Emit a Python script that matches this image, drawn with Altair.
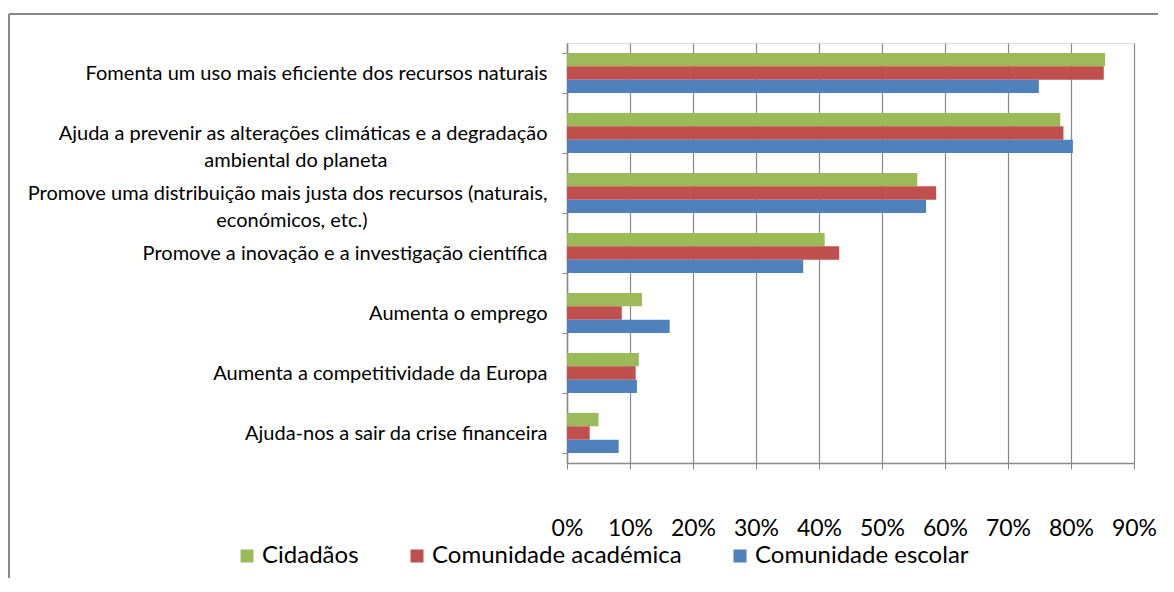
import altair as alt
import pandas as pd

EN = "\u2002"
ZW = "\u200b"
categories = [
    "Fomenta um uso mais eficiente dos recursos naturais",
    "Ajuda a prevenir as alterações climáticas e a degradação|ambiental do planeta" + EN * 16 + ZW,
    "Promove uma distribuição mais justa dos recursos (naturais,|económicos, etc.)" + EN * 18 + ZW,
    "Promove a inovação e a investigação científica",
    "Aumenta o emprego",
    "Aumenta a competitividade da Europa",
    "Ajuda-nos a sair da crise financeira",
]
series = ["Cidadãos", "Comunidade académica", "Comunidade escolar"]
colors = ["#9BBB59", "#C0504D", "#4F81BD"]
cidadaos = [0.854, 0.783, 0.556, 0.409, 0.119, 0.114, 0.050]
academica = [0.852, 0.788, 0.586, 0.432, 0.087, 0.109, 0.036]
escolar = [0.749, 0.803, 0.570, 0.375, 0.163, 0.111, 0.082]
x_ticks = [0, 0.1, 0.2, 0.3, 0.4, 0.5, 0.6, 0.7, 0.8, 0.9]

rows = []
for s, vals in zip(series, [cidadaos, academica, escolar]):
    for c, v in zip(categories, vals):
        rows.append({"categoria": c, "serie": s, "valor": v})
df = pd.DataFrame(rows)

FONT = "Lato"
GRAY = "#898989"

bars = alt.Chart(df).mark_bar().encode(
    y=alt.Y(
        "categoria:N",
        sort=categories,
        scale=alt.Scale(paddingInner=0.33, paddingOuter=0.165),
        axis=alt.Axis(
            title=None,
            labelExpr="split(datum.label, '|')",
            labelFont=FONT,
            labelFontSize=20,
            labelColor="black",
            labelLineHeight=27,
            labelLimit=700,
            labelAlign="right",
            labelPadding=15,
            tickBand="extent",
            tickSize=5,
            tickColor=GRAY,
            domainColor=GRAY,
            domainWidth=1.5,
            grid=False,
        ),
    ),
    yOffset=alt.YOffset("serie:N", sort=series, scale=alt.Scale(paddingInner=0, paddingOuter=0)),
    x=alt.X(
        "valor:Q",
        scale=alt.Scale(domain=[0, 0.9], nice=False),
        axis=alt.Axis(
            title=None,
            values=x_ticks,
            format=".0%",
            labelFont=FONT,
            labelFontSize=23,
            labelColor="black",
            labelPadding=48,
            labelOverlap=False,
            labelFlush=False,
            tickSize=6,
            tickColor=GRAY,
            domainColor=GRAY,
            domainWidth=1.5,
            grid=True,
            gridColor=GRAY,
            gridWidth=1.2,
        ),
    ),
    color=alt.Color(
        "serie:N",
        sort=series,
        scale=alt.Scale(domain=series, range=colors),
        legend=alt.Legend(
            title=None,
            orient="none",
            direction="horizontal",
            legendX=-332,
            legendY=501,
            symbolType="square",
            symbolSize=169,
            symbolStrokeWidth=0,
            labelFont=FONT,
            labelFontSize=24,
            labelColor="black",
            labelLimit=500,
            labelOffset=3,
            columnPadding=46,
        ),
    ),
)

border_df = pd.DataFrame({"k": [0]})
top_line = alt.Chart(border_df).mark_rule(color=GRAY, strokeWidth=2).encode(
    x=alt.value(-558), x2=alt.value(592), y=alt.value(-29)
)
left_line = alt.Chart(border_df).mark_rule(color=GRAY, strokeWidth=2).encode(
    x=alt.value(-558), y=alt.value(-29), y2=alt.value(540)
)

chart = alt.layer(bars, top_line, left_line).properties(
    width=567,
    height=420,
    autosize=alt.AutoSizeParams(type="none"),
    padding={"left": 559, "top": 35, "right": 24, "bottom": 115},
).configure_view(stroke=None).configure(background="white")

chart.save("out.html", embed_options={"renderer": "svg", "actions": False})
